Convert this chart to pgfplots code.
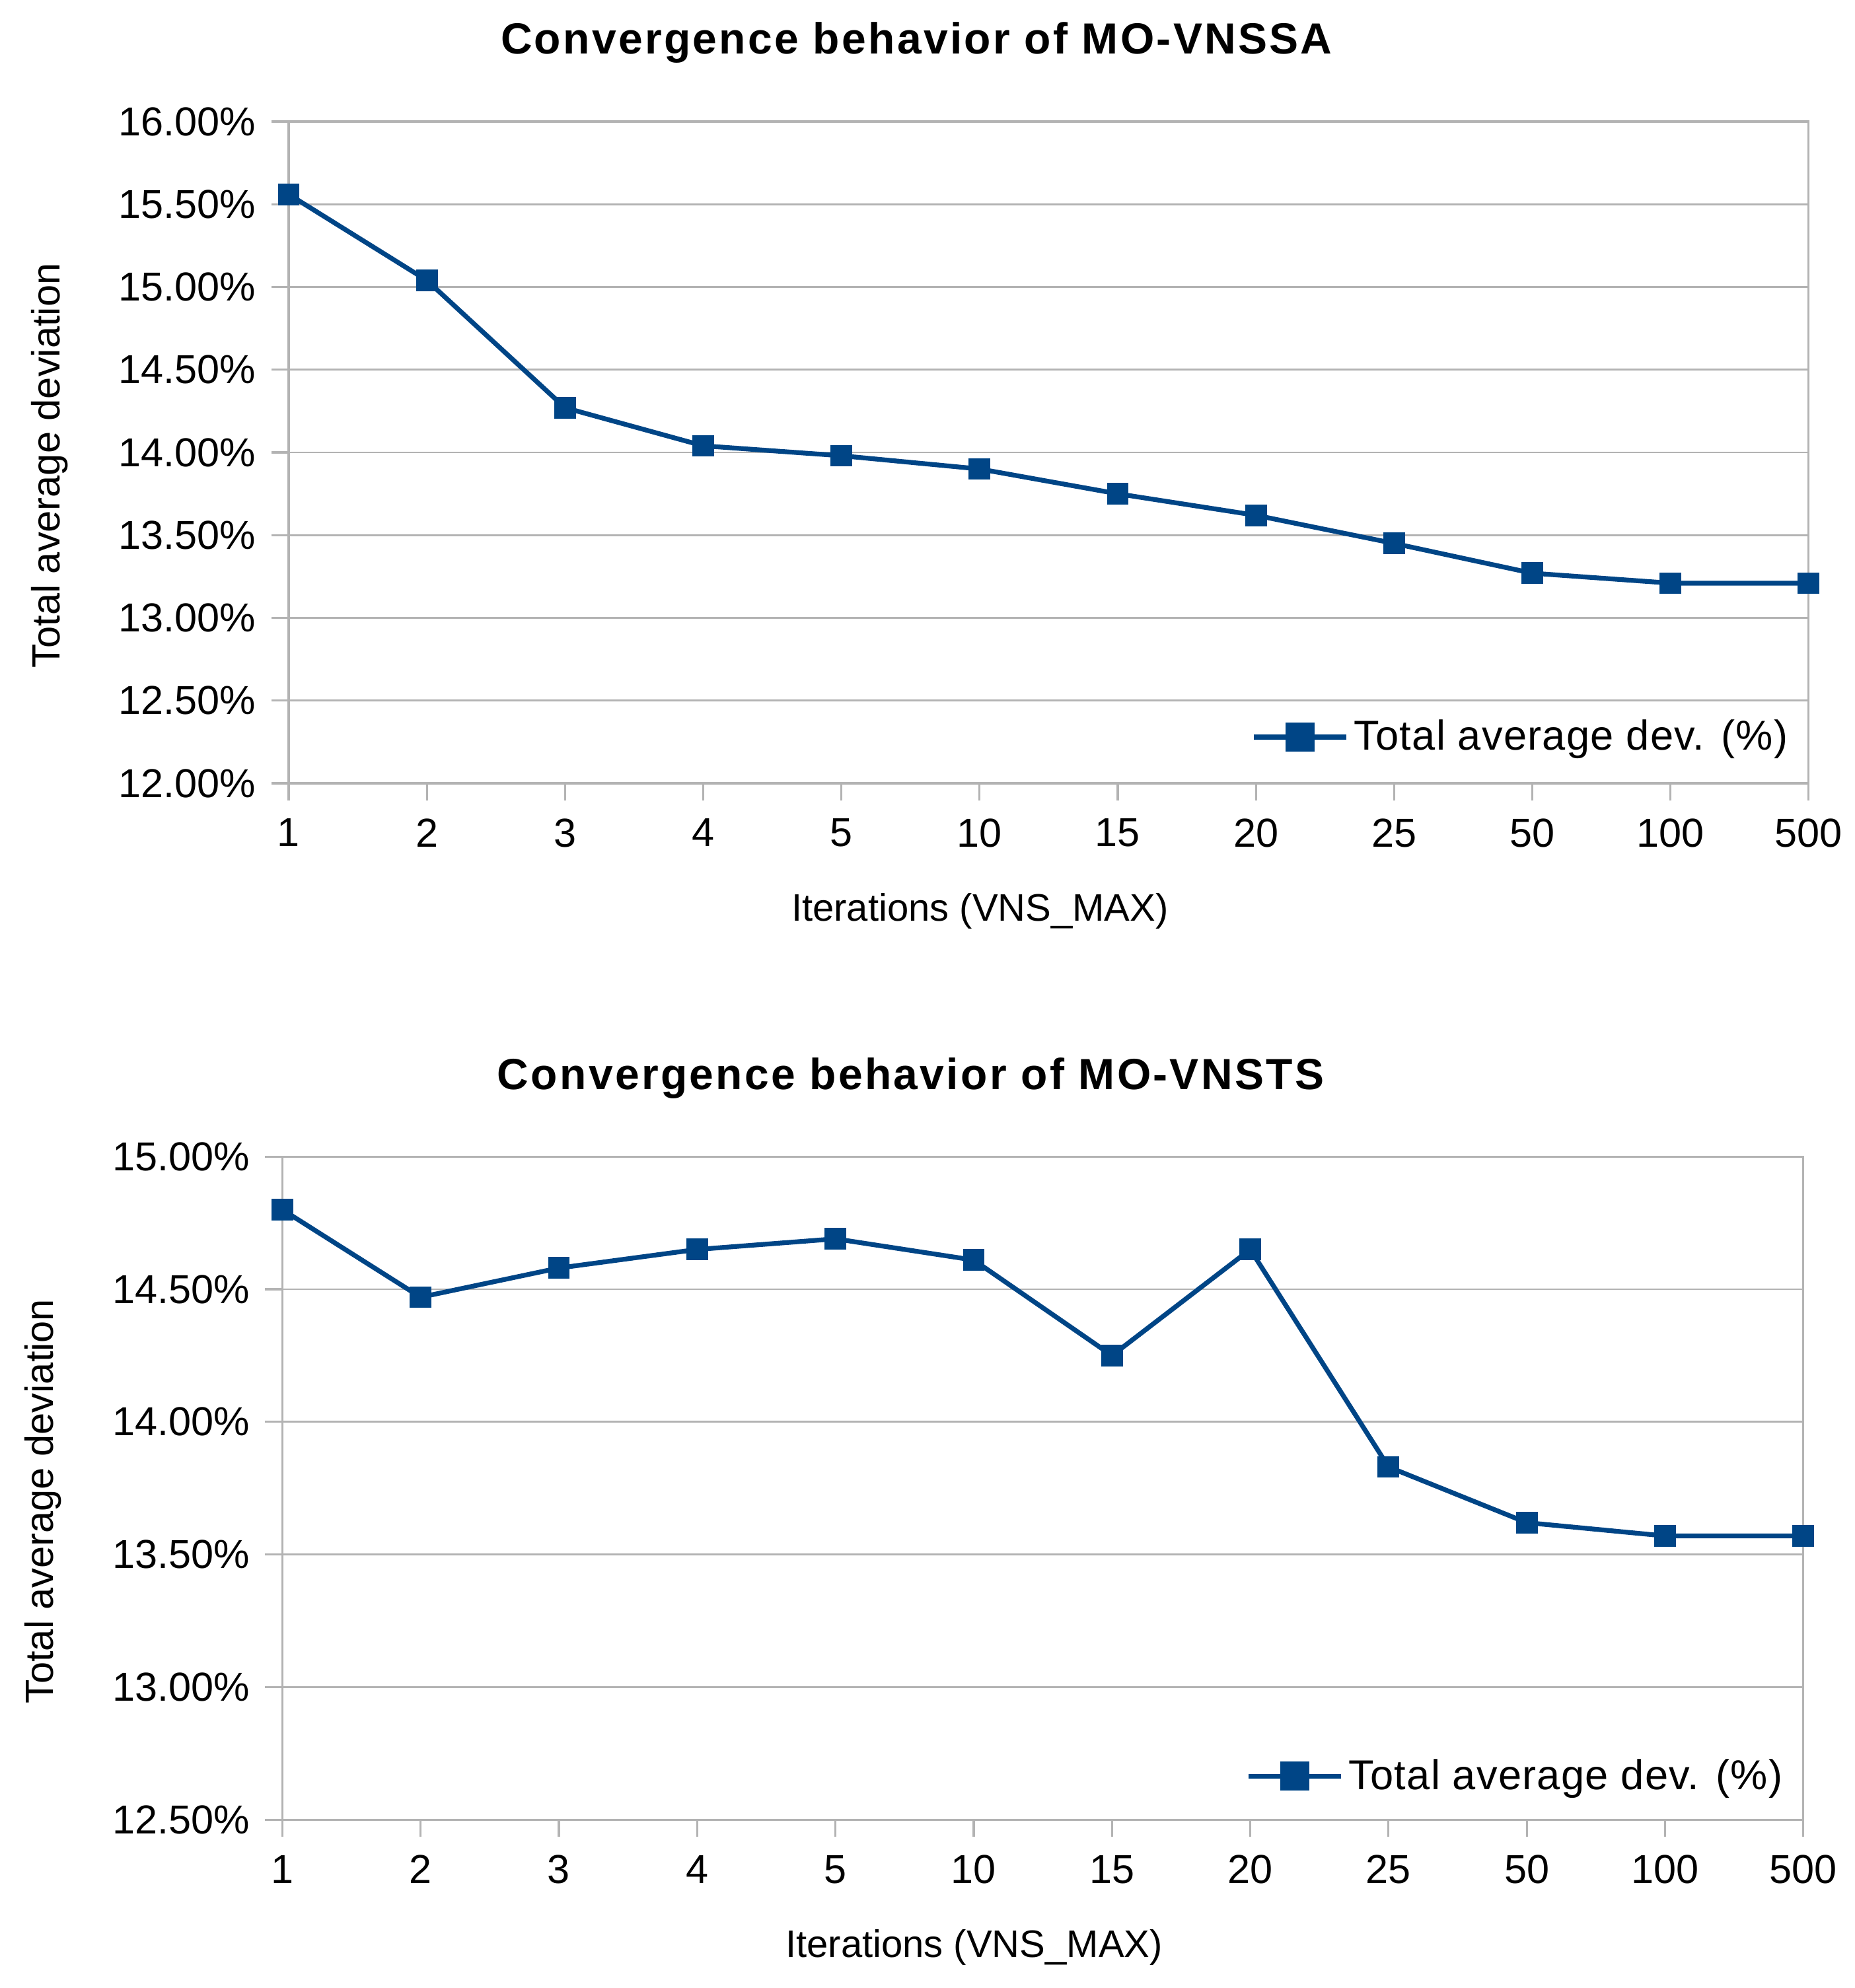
\documentclass[border=0pt]{standalone}
\usepackage{fontspec}
\setmainfont{Liberation Sans}
\newfontfamily\titlefont[LetterSpace=5]{Liberation Sans}
\newfontfamily\legfont[LetterSpace=2]{Liberation Sans}
\usepackage{pgfplots}
\pgfplotsset{compat=1.18}
\definecolor{lineblue}{HTML}{004586}
\definecolor{gridgray}{HTML}{B3B3B3}
\pgfplotsset{mystyle/.style={
  scale only axis,
  xmin=0, xmax=11,
  xtick={0,...,11},
  xticklabels={1,2,3,4,5,10,15,20,25,50,100,500},
  axis line style={gridgray, line width=0.8pt},
  ymajorgrids,
  grid style={gridgray, line width=0.7pt},
  tick align=outside,
  major tick length=6.5pt,
  xtick pos=bottom, ytick pos=left,
  tick style={gridgray, line width=0.8pt},
  ytick distance=0.5,
  /pgf/number format/assume math mode=true,
  yticklabel={\pgfmathprintnumber[fixed,fixed zerofill,precision=2]{\tick}\%},
  ticklabel style={font=\fontsize{15.3}{18}\selectfont, text=black},
  xticklabel style={yshift=-3.4pt},
  yticklabel style={xshift=-2.4pt},
  every axis y label/.style={at={(axis description cs:0,0.5)}, xshift=-90.5pt, yshift=-5pt, rotate=90, anchor=center, font=\fontsize{14.9}{17}\selectfont},
  every axis x label/.style={at={(axis description cs:0.5,0)}, xshift=-26pt, yshift=-48.4pt, anchor=center, font=\fontsize{14.5}{17}\selectfont},
  ylabel={Total average deviation},
  xlabel={Iterations (VNS\_MAX)},
  legend image code/.code={\draw[mark repeat=2,mark phase=2, mark options={scale=1.45}] plot coordinates {(0pt,0pt) (17.5pt,0pt) (35pt,0pt)};},
  legend cell align=left,
}}
\begin{document}
\begin{tikzpicture}
\begin{axis}[mystyle, name=top, at={(0,0)}, anchor=south west,
  width=575.2pt, height=250.5pt,
  ymin=12, ymax=16,
  title={Convergence behavior of MO-VNSSA},
  title style={font=\titlefont\bfseries\fontsize{16.5}{20}\selectfont, at={(axis description cs:0.5,1)}, anchor=center, xshift=-50pt, yshift=23.8pt},
  legend style={at={(axis description cs:1,0)}, anchor=east, xshift=-2.7pt, yshift=17.5pt, draw=none, fill=none, font=\legfont\fontsize{15.8}{18}\selectfont},
]
\addplot[lineblue, line width=1.8pt, mark=square*, mark size=3.2pt, mark options={solid}] coordinates {
(0,15.56) (1,15.04) (2,14.27) (3,14.04) (4,13.98) (5,13.90) (6,13.75) (7,13.62) (8,13.45) (9,13.27) (10,13.21) (11,13.21)};
\addlegendentry{Total average dev. (\%)}
\end{axis}
\begin{axis}[mystyle, name=bot, at={(-2.4pt,-392.3pt)}, anchor=south west,
  width=575.6pt, height=251pt,
  ymin=12.5, ymax=15,
  title={Convergence behavior of MO-VNSTS},
  title style={font=\titlefont\bfseries\fontsize{16.5}{20}\selectfont, at={(axis description cs:0.5,1)}, anchor=center, xshift=-50pt, yshift=23.6pt},
  legend style={at={(axis description cs:1,0)}, anchor=east, xshift=-2.7pt, yshift=16.5pt, draw=none, fill=none, font=\legfont\fontsize{15.8}{18}\selectfont},
]
\addplot[lineblue, line width=1.8pt, mark=square*, mark size=3.2pt, mark options={solid}] coordinates {
(0,14.80) (1,14.47) (2,14.58) (3,14.65) (4,14.69) (5,14.61) (6,14.25) (7,14.65) (8,13.83) (9,13.62) (10,13.57) (11,13.57)};
\addlegendentry{Total average dev. (\%)}
\end{axis}
\pgfresetboundingbox
\path ([shift={(-109.25pt,296.5pt)}]top.south west) rectangle ([shift={(592.5pt,-456pt)}]top.south west);
\end{tikzpicture}
\end{document}
